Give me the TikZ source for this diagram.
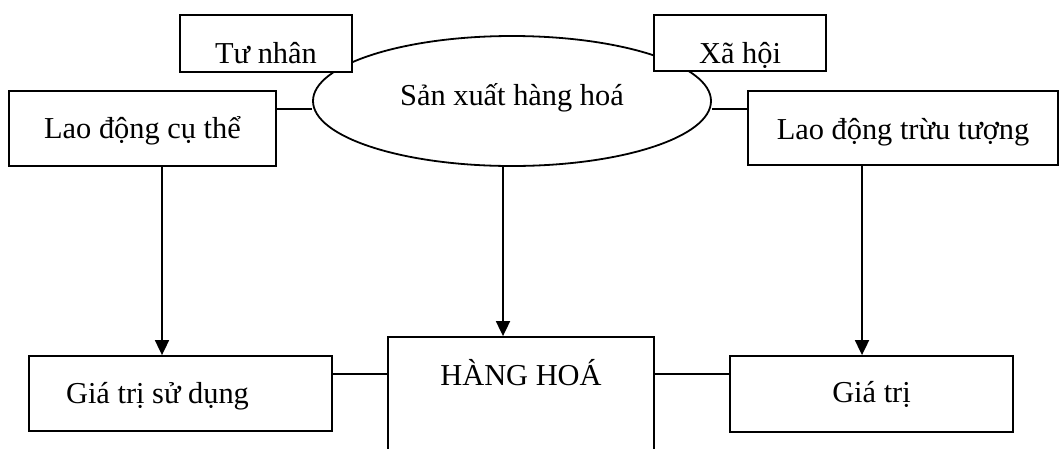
\documentclass[tikz,border=0pt]{standalone}
\usepackage{fontspec}
\setmainfont{Liberation Serif}
\usetikzlibrary{shapes.geometric,arrows.meta}
\begin{document}
\begin{tikzpicture}[x=1pt,y=-1pt,
	font=\fontsize{30.4}{36}\selectfont,
	box/.style={draw,fill=white,line width=1.8pt,inner sep=0pt},
	oval/.style={draw,ellipse,line width=1.8pt,inner sep=0pt},
	link/.style={line width=1.8pt},
	arr/.style={line width=1.8pt,-{Triangle[length=15pt,width=14pt]}}]

	\useasboundingbox (0,0) rectangle (1059,448);

	\node[oval, minimum width=398pt, minimum height=130pt, text height=14pt, text depth=6pt] (sx) at (512,101) {Sản xuất hàng hoá};

	\node[box, minimum width=172pt, minimum height=57pt, text height=39pt, text depth=0pt] (tn) at (266,43.5) {Tư nhân};
	\node[box, minimum width=172pt, minimum height=56pt, text height=40pt, text depth=0pt] (xh) at (740,43) {Xã hội};
	\node[box, minimum width=267pt, minimum height=75pt, text height=25pt, text depth=6pt] (ldct) at (142.5,128.5) {Lao động cụ thể};
	\node[box, minimum width=310pt, minimum height=74pt, text height=27pt, text depth=5pt] (ldtt) at (903,128) {Lao động trừu tượng};

	\node[box, minimum width=303pt, minimum height=75pt, text height=25pt, text depth=6pt] (gtsd) at (180.5,393.5) {Giá trị sử dụng\hspace*{46pt}};
	\node[box, minimum width=266pt, minimum height=123pt, text height=22pt, text depth=49pt] (hh) at (521,398.5) {HÀNG HOÁ};
	\node[box, minimum width=283pt, minimum height=76pt, text height=24pt, text depth=8pt] (gt) at (871.5,394) {Giá trị};

	\draw[link] ([yshift=19.5pt]ldct.east) -- ([yshift=19.5pt]ldct.east -| sx.west);
	\draw[link] ([yshift=19pt]ldtt.west) -- ([yshift=19pt]ldtt.west -| sx.east);
	\draw[link] ([yshift=19.5pt]gtsd.east) -- ([yshift=19.5pt]gtsd.east -| hh.west);
	\draw[link] ([yshift=20pt]gt.west -| hh.east) -- ([yshift=20pt]gt.west);

	\draw[arr] ([xshift=19.5pt]ldct.south) -- ([xshift=19.5pt]ldct.south |- gtsd.north);
	\draw[arr] ([xshift=-9pt]sx.south) -- ([xshift=-9pt]sx.south |- hh.north);
	\draw[arr] ([xshift=-41pt]ldtt.south) -- ([xshift=-41pt]ldtt.south |- gt.north);
\end{tikzpicture}
\end{document}
